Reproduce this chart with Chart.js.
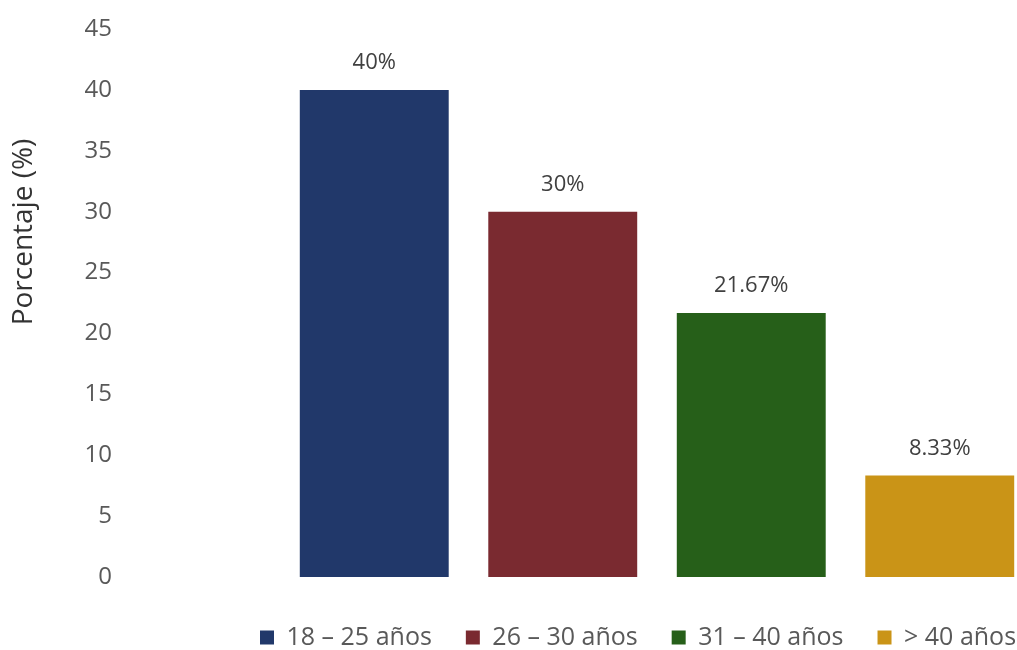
<!DOCTYPE html>
<html>
<head>
<meta charset="utf-8">
<script src="https://cdn.jsdelivr.net/npm/chart.js@4.4.1/dist/chart.umd.min.js"></script>
<style>
  html, body { margin: 0; padding: 0; background: #ffffff; overflow: hidden; }
  #wrap { position: relative; width: 1034px; height: 650px; }
</style>
</head>
<body>
<div id="wrap"><canvas id="c"></canvas></div>
<script>
const categories = ['18 – 25 años', '26 – 30 años', '31 – 40 años', '> 40 años'];
const values = [40, 30, 21.67, 8.33];
const valueLabels = ['40%', '30%', '21.67%', '8.33%'];
const colors = ['#21386A', '#7A2A30', '#265F19', '#CA9417'];
const yTicks = [0, 5, 10, 15, 20, 25, 30, 35, 40, 45];
const yTitle = 'Porcentaje (%)';

const FONT = "'Open Sans', 'DejaVu Sans', sans-serif";

const datasets = categories.map((name, i) => ({
  label: name,
  data: categories.map((_, j) => (j === i ? values[i] : null)),
  backgroundColor: colors[i],
  borderWidth: 0,
  grouped: false,
  barPercentage: 0.79,
  categoryPercentage: 1.0
}));

const layoutFix = {
  id: 'layoutFix',
  afterLayout(chart) {
    const lg = chart.legend;
    if (!lg) return;
    const pad = lg.options.labels.padding;
    const w = lg.right - lg.left;
    lg.left = 260 - pad;
    lg.right = lg.left + w;
    const h = lg.bottom - lg.top;
    lg.top = 636 - pad - 11;
    lg.bottom = lg.top + h;
  }
};

const valueLabelPlugin = {
  id: 'valueLabels',
  afterDatasetsDraw(chart) {
    const ctx = chart.ctx;
    ctx.save();
    ctx.font = "22px " + FONT;
    ctx.fillStyle = '#404040';
    ctx.textAlign = 'center';
    ctx.textBaseline = 'middle';
    chart.data.datasets.forEach((ds, di) => {
      const meta = chart.getDatasetMeta(di);
      meta.data.forEach((el, j) => {
        const v = ds.data[j];
        if (v === null || v === undefined) return;
        ctx.fillText(valueLabels[di], el.x, el.y - 27);
      });
    });
    ctx.restore();
  }
};

const yTitlePlugin = {
  id: 'yTitle',
  afterDraw(chart) {
    const ctx = chart.ctx;
    ctx.save();
    ctx.translate(24, 232);
    ctx.rotate(-Math.PI / 2);
    ctx.font = "28px " + FONT;
    ctx.fillStyle = '#333333';
    ctx.textAlign = 'center';
    ctx.textBaseline = 'middle';
    ctx.fillText(yTitle, 0, 0);
    ctx.restore();
  }
};

new Chart(document.getElementById('c'), {
  type: 'bar',
  data: { labels: categories, datasets },
  options: {
    responsive: true,
    maintainAspectRatio: false,
    animation: false,
    layout: { padding: { top: 29, left: 0, right: 0, bottom: 4 } },
    plugins: {
      legend: {
        display: true,
        position: 'bottom',
        align: 'start',
        maxHeight: 74,
        labels: {
          boxWidth: 14,
          boxHeight: 14,
          padding: 34,
          color: '#595959',
          font: { family: FONT, size: 25 }
        }
      },
      tooltip: { enabled: false }
    },
    scales: {
      x: {
        display: false,
        grid: { display: false }
      },
      y: {
        min: 0,
        max: 45,
        afterBuildTicks(scale) { scale.ticks = yTicks.map(v => ({ value: v })); },
        afterFit(scale) {
          scale.width = 280;
          scale.paddingTop = 12;
          scale.paddingBottom = 12;
        },
        border: { display: false },
        grid: { display: false, drawTicks: false },
        ticks: {
          padding: 168,
          color: '#595959',
          font: { family: FONT, size: 24 }
        }
      }
    }
  },
  plugins: [layoutFix, valueLabelPlugin, yTitlePlugin]
});
</script>
</body>
</html>
